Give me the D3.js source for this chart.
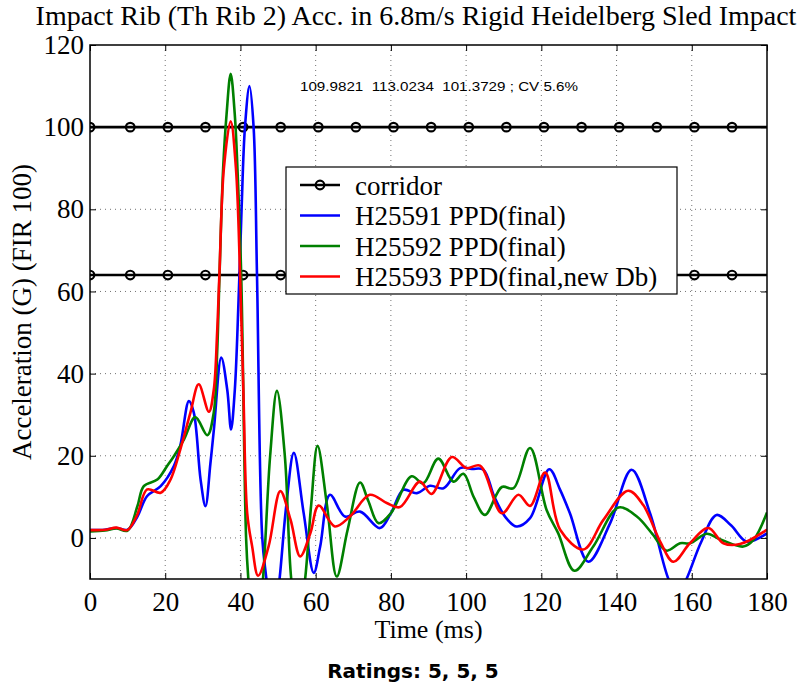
<!DOCTYPE html>
<html><head><meta charset="utf-8">
<script src="https://cdn.jsdelivr.net/npm/d3@7"></script>
<style>body{margin:0;background:#fff}</style>
</head><body><svg id="c" width="806" height="689"></svg>
<script>
// ---------- data ----------
const titleText = "Impact Rib (Th Rib 2) Acc. in 6.8m/s Rigid Heidelberg Sled Impact";
const xLabel = "Time (ms)";
const yLabel = "Acceleration (G) (FIR 100)";
const noteText = "109.9821  113.0234  101.3729 ; CV 5.6%";
const ratingsText = "Ratings: 5, 5, 5";
const xTicks = [0, 20, 40, 60, 80, 100, 120, 140, 160, 180];
const yTicks = [0, 20, 40, 60, 80, 100, 120];
const seriesNames = ["corridor", "H25591 PPD(final)", "H25592 PPD(final)", "H25593 PPD(final,new Db)"];
const seriesColors = ["#000000", "#0000ff", "#008000", "#ff0000"];

const corridorTime = [0, 180];
const corridorMarkerTime = [0, 10.7, 20.7, 30.7, 40.7, 50.7, 60.7, 70.7, 80.7, 90.7, 100.7, 110.7, 120.7, 130.7, 140.7, 150.7, 160.7, 170.7];
const corridorUpper = 100;
const corridorLower = 64;

const h25591Time = [0,4,7,10,12.5, 15.2,18.8,22.3,24,26.3, 27.6,29.4,30.7,32,33, 34.9,36.5,37.5,38.5,39.5, 40.3,41.2,42.4,43.5,44.4, 45.8,46.9,48.6,50.4,52.2, 54.2,56.8,59.5,61.2,63.8, 67.8,71.8,77.1,80,83.3, 86.9,90.4,94,98.4,101.5, 104.6,107.5,110.5,113.4,117, 122.1,125,127.6,132.5,138.3, 144,148.9,153.8,156.2,158.6, 162.5,166.6,170.5,174.6,180];
const h25591Acc  = [1.9,2.0,2.4,2.0,5, 10.2,12.6,17.5,22.4,33.3, 30.5,14.2,7.7,18,27, 43.9,36,26.4,36,58, 80,100,110,100,64, 0,-10,-24,-10,8, 20.7,6.1,-8.5,-2.1,10.5, 5.2,6.4,2.4,6,11.7, 10.9,12.7,12.1,17,16.8, 16.6,10,5,2.8,4.8, 16.7,11.7,6,-5.8,3.6, 16.6,6,-10,-14,-10, -1,5.6,3,-0.9,1.1];

const h25592Time = [0,4,7,10,12.6, 14.3,17.9,20.5,22.3,25, 28,31.2,32.9,33.8,34.4, 35.4,36.3,37.4,38.5,39.2, 40.2,41.5,42.1,44,46, 47.9,49.7,51.8,53.5,55.4, 57.2,58.8,60.5,63,65.6, 68.5,71.8,74,76.7,80, 85.5,88.6,92.6,96.6,99.3, 102,105,109.5,112.6,117, 121.4,124.5,128.8,133.8,140.5, 145.4,149.5,153.3,156.9,159.5, 164,167.5,173.7,176.4,180];
const h25592Acc  = [1.6,1.8,2.3,1.8,7.7, 12.6,14.2,17.5,19.9,24, 29.4,25,30.5,45,63, 90,103,113,103,90, 64,0,-10,-30,-10, 20,35.8,20,-10,-22, -10,8,22.4,8,-9.4, 2,13.5,9,3.6,6, 15,13.3,19.3,13.7,15.6, 10,5.6,12.4,12.1,21.9, 6.8,1.1,-8,-2.1,7.4, 5.2,1,-3.1,-1.3,-1.3, 1.0,-0.3,-2.1,-0.5,6.2];

const h25593Time = [0,4,7,9.9,12.5, 15.2,18.8,21.4,24,26.7, 28.9,31.6,32.9,33.8,34.4, 35.6,37.4,38.8,39.9,40.8, 41.8,43.1,44.7,47.5,50.6, 53.3,55.9,58.6,60.8,65.1, 69.1,74.4,78.9,82.4,87.7, 90.8,96.2,100.1,103.7,109.5, 113.9,117,121,125,131.2, 136.5,143.1,147.1,151.6,155.1, 159.5,164.4,168.4,172.8,180];
const h25593Acc  = [1.9,2.0,2.5,1.9,5.5, 11.8,11,14.2,21.5,30.5, 37.4,30.7,36,50,64, 90,101.4,90,64,35, 6,-2,-9.2,-2,11.4, 4.5,-4.5,1.2,7.9,2.8, 5.2,10.5,8.5,7.5,13.7, 10.7,19.7,17,17.6,6, 10.5,7.8,15.9,2,-2.8, 4.4,11.5,8,-0.9,-5.8, -1.3,2.4,-1.3,-1.5,2];

// ---------- chart ----------
const svg = d3.select("#c");
const L = 90, R = 767, T = 45, B = 579;
const x = d3.scaleLinear().domain([0, 180]).range([L, R]);
const y = d3.scaleLinear().domain([-10, 120]).range([B, T]);
const serif = "'Liberation Serif','Times New Roman',serif";

svg.append("defs").append("clipPath").attr("id", "clip")
  .append("rect").attr("x", L).attr("y", T).attr("width", R - L).attr("height", B - T);

// grid
const grid = svg.append("g").attr("stroke", "#000").attr("stroke-width", 1)
  .attr("stroke-dasharray", "1,4").attr("opacity", 0.55);
xTicks.filter(d => d > 0 && d < 180).forEach(d => {
  grid.append("line").attr("x1", x(d)).attr("x2", x(d)).attr("y1", T).attr("y2", B);
});
yTicks.filter(d => d < 120).forEach(d => {
  grid.append("line").attr("x1", L).attr("x2", R).attr("y1", y(d)).attr("y2", y(d));
});

const plot = svg.append("g").attr("clip-path", "url(#clip)");

// corridor
[corridorUpper, corridorLower].forEach(level => {
  plot.append("path").datum(corridorTime.map(t => [t, level]))
    .attr("d", d3.line().x(d => x(d[0])).y(d => y(d[1])))
    .attr("fill", "none").attr("stroke", "#000").attr("stroke-width", 2.6);
  plot.selectAll(null).data(corridorMarkerTime.map(t => [t, level])).enter().append("circle")
    .attr("cx", d => x(d[0])).attr("cy", d => y(d[1])).attr("r", 4.3)
    .attr("fill", "none").attr("stroke", "#000").attr("stroke-width", 2.2);
});

const line = d3.line().x(d => x(d[0])).y(d => y(d[1])).curve(d3.curveCatmullRom.alpha(0.5));
const series = [
  [h25591Time, h25591Acc, seriesColors[1]],
  [h25592Time, h25592Acc, seriesColors[2]],
  [h25593Time, h25593Acc, seriesColors[3]]
];
series.forEach(([ts, vs, col]) => {
  const pts = ts.map((t, i) => [t, vs[i]]);
  plot.append("path").datum(pts).attr("d", line)
    .attr("fill", "none").attr("stroke", col).attr("stroke-width", 2.6)
    .attr("stroke-linejoin", "round");
});

// axes (ticks inward, box)
const fmt = d3.format("d");
const axB = svg.append("g").attr("transform", `translate(0,${B})`)
  .call(d3.axisBottom(x).tickValues(xTicks).tickSize(-6).tickSizeOuter(0).tickPadding(13).tickFormat(fmt));
const axL = svg.append("g").attr("transform", `translate(${L},0)`)
  .call(d3.axisLeft(y).tickValues(yTicks).tickSize(-6).tickSizeOuter(0).tickPadding(6).tickFormat(fmt));
const axT = svg.append("g").attr("transform", `translate(0,${T})`)
  .call(d3.axisTop(x).tickValues(xTicks).tickSize(-6).tickSizeOuter(0).tickFormat(""));
const axR = svg.append("g").attr("transform", `translate(${R},0)`)
  .call(d3.axisRight(y).tickValues(yTicks).tickSize(-6).tickSizeOuter(0).tickFormat(""));
[axB, axL, axT, axR].forEach(a => {
  a.select(".domain").remove();
  a.selectAll("line").attr("stroke", "#000").attr("stroke-width", 1);
  a.selectAll("text").attr("font-family", serif).attr("font-size", 27).attr("fill", "#000");
});
svg.append("rect").attr("x", L).attr("y", T).attr("width", R - L).attr("height", B - T)
  .attr("fill", "none").attr("stroke", "#000").attr("stroke-width", 1.5);

// legend
const lg = svg.append("g");
lg.append("rect").attr("x", 286).attr("y", 167).attr("width", 391).attr("height", 127)
  .attr("fill", "#fff").attr("stroke", "#000").attr("stroke-width", 1.2);
seriesNames.forEach((name, i) => {
  const cy = 185 + i * 30.5;
  lg.append("line").attr("x1", 300).attr("x2", 340).attr("y1", cy).attr("y2", cy)
    .attr("stroke", seriesColors[i]).attr("stroke-width", 2.6);
  if (i === 0) {
    lg.append("circle").attr("cx", 320).attr("cy", cy).attr("r", 4.3)
      .attr("fill", "none").attr("stroke", "#000").attr("stroke-width", 2.2);
  }
  lg.append("text").attr("x", 355).attr("y", cy + 9.5).text(name)
    .attr("font-family", serif).attr("font-size", 27).attr("fill", "#000");
});

// texts
svg.append("text").attr("x", 416).attr("y", 25).attr("text-anchor", "middle")
  .attr("font-family", serif).attr("font-size", 28).text(titleText);
svg.append("text").attr("x", (L + R) / 2).attr("y", 638).attr("text-anchor", "middle")
  .attr("font-family", serif).attr("font-size", 26).text(xLabel);
svg.append("text").attr("transform", `translate(31,${(T + B) / 2}) rotate(-90)`).attr("text-anchor", "middle")
  .attr("font-family", serif).attr("font-size", 27).text(yLabel);
svg.append("text").attr("x", 300).attr("y", 90.5)
  .attr("font-family", "'Liberation Sans',Arial,sans-serif").attr("font-size", 12)
  .attr("textLength", 278).attr("lengthAdjust", "spacingAndGlyphs")
  .attr("xml:space", "preserve").style("white-space", "pre").text(noteText);
svg.append("text").attr("x", 413).attr("y", 678).attr("text-anchor", "middle")
  .attr("font-family", "'DejaVu Sans',sans-serif").attr("font-weight", "bold").attr("font-size", 20)
  .text(ratingsText);
</script>
</body></html>
